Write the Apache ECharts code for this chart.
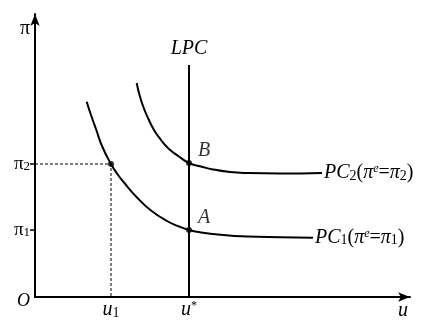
<!DOCTYPE html>
<html><head><meta charset="utf-8">
<script src="https://cdn.jsdelivr.net/npm/echarts@6/dist/echarts.min.js"></script>
<style>html,body{margin:0;padding:0;background:#fff}#c{width:431px;height:324px}</style>
</head><body><div id="c"></div>
<script>
// values (u axis 0..375, pi axis 0..283)
const uMax = 375, piMax = 283;
const u1 = 76, uStar = 154;
const pi1 = 67, pi2 = 133;
const pc1U  = [51.7, 56, 61, 67, 76, 82, 89, 102, 116, 132, 144, 154, 166, 178, 212, 245, 278];
const pc1Pi = [195.3, 182, 168, 151, 133, 123.5, 114.5, 99.5, 86.5, 76, 70.5, 67, 64.5, 63, 60.5, 59.8, 59.3];
const pc2U  = [101.7, 104, 108, 113, 119, 126, 134, 144, 154, 166, 178, 195, 212, 245, 287];
const pc2Pi = [214, 204, 191, 179, 167, 157, 148, 140.5, 134, 130.5, 127.5, 125, 124, 123.5, 124];
const lpcTop = 232;
const pointU  = [u1, uStar, uStar];
const pointPi = [pi2, 134, pi1];
const pointNames = ['', 'B', 'A'];

const serif = '"Liberation Serif","DejaVu Serif",serif';
const zip = (a, b) => a.map((v, i) => [v, b[i]]);
const pcRich = {
  i: {fontFamily: serif, fontStyle: 'italic', fontSize: 20, color: '#000'},
  n: {fontFamily: serif, fontSize: 20, color: '#000'},
  sub: {fontFamily: serif, fontSize: 14, color: '#000', verticalAlign: 'bottom'},
  sup: {fontFamily: serif, fontStyle: 'italic', fontSize: 12, color: '#000', verticalAlign: 'top'}
};
const chart = echarts.init(document.getElementById('c'), null, {renderer: 'canvas'});
chart.setOption({
  backgroundColor: '#fff',
  animation: false,
  grid: {left: 35, right: 21, top: 14, bottom: 27},
  xAxis: {
    type: 'value', min: 0, max: uMax,
    name: 'u', nameLocation: 'end', nameGap: -12,
    nameTextStyle: {fontFamily: serif, fontStyle: 'italic', fontSize: 20, color: '#000', verticalAlign: 'top', padding: [4, 0, 0, 0]},
    axisLine: {lineStyle: {color: '#000', width: 2}, symbol: ['none', 'arrow'], symbolSize: [7, 12]},
    axisTick: {show: false},
    splitLine: {show: false},
    axisLabel: {
      customValues: [u1, uStar], margin: 3,
      formatter: v => v === u1 ? '{i|u}{sub|1}' : '{i|u}{sup|*}',
      rich: {
        i: {fontFamily: serif, fontStyle: 'italic', fontSize: 20, color: '#000'},
        sub: {fontFamily: serif, fontSize: 14, color: '#000', verticalAlign: 'bottom'},
        sup: {fontFamily: serif, fontSize: 12, color: '#000', verticalAlign: 'top'}
      }
    }
  },
  yAxis: {
    type: 'value', min: 0, max: piMax,
    name: 'π', nameLocation: 'end', nameGap: -25,
    nameTextStyle: {fontFamily: serif, fontSize: 20, color: '#000', align: 'right', padding: [0, 5, 0, 0]},
    axisLine: {lineStyle: {color: '#000', width: 2}, symbol: ['none', 'arrow'], symbolSize: [7, 12]},
    axisTick: {show: true, customValues: [pi1, pi2], length: 5, lineStyle: {color: '#000', width: 1.5}},
    splitLine: {show: false},
    axisLabel: {
      customValues: [0, pi1, pi2], margin: 5,
      formatter: v => v === 0 ? '{o|O}' : (v === pi1 ? '{n|π}{sub|1}' : '{n|π}{sub|2}'),
      rich: {
        o: {fontFamily: serif, fontStyle: 'italic', fontSize: 18, color: '#000', padding: [8, 0, 0, 0]},
        n: {fontFamily: serif, fontSize: 19, color: '#000'},
        sub: {fontFamily: serif, fontSize: 13, color: '#000', verticalAlign: 'bottom'}
      }
    }
  },
  series: [
    {type: 'line', data: [[0, pi2], [u1, pi2], [u1, 0]], symbol: 'none', silent: true,
     lineStyle: {color: '#000', width: 1, type: [3, 2]}},
    {type: 'line', symbol: 'circle', symbolSize: 0, showSymbol: true,
     data: [[uStar, 0], {value: [uStar, lpcTop],
       label: {show: true, position: 'top', distance: 6, formatter: 'LPC', fontFamily: serif, fontStyle: 'italic', fontSize: 20, color: '#000'}}],
     lineStyle: {color: '#000', width: 2}},
    {type: 'line', data: zip(pc1U, pc1Pi), smooth: 0.5, symbol: 'none',
     lineStyle: {color: '#000', width: 2},
     endLabel: {show: true, distance: 2, formatter: '{i|PC}{sub|1}{n|(}{i|π}{sup|e}{n|=}{i|π}{sub|1}{n|)}', rich: pcRich}},
    {type: 'line', data: zip(pc2U, pc2Pi), smooth: 0.5, symbol: 'none',
     lineStyle: {color: '#000', width: 2},
     endLabel: {show: true, distance: 2, formatter: '{i|PC}{sub|2}{n|(}{i|π}{sup|e}{n|=}{i|π}{sub|2}{n|)}', rich: pcRich}},
    {type: 'scatter', data: pointU.map((u, i) => ({value: [u, pointPi[i]], name: pointNames[i]})),
     symbolSize: 6, itemStyle: {color: '#000'},
     label: {show: true, position: 'right', offset: [1, -12], formatter: p => p.name,
       fontFamily: serif, fontStyle: 'italic', fontSize: 20, color: '#000'}}
  ]
});
</script></body></html>
